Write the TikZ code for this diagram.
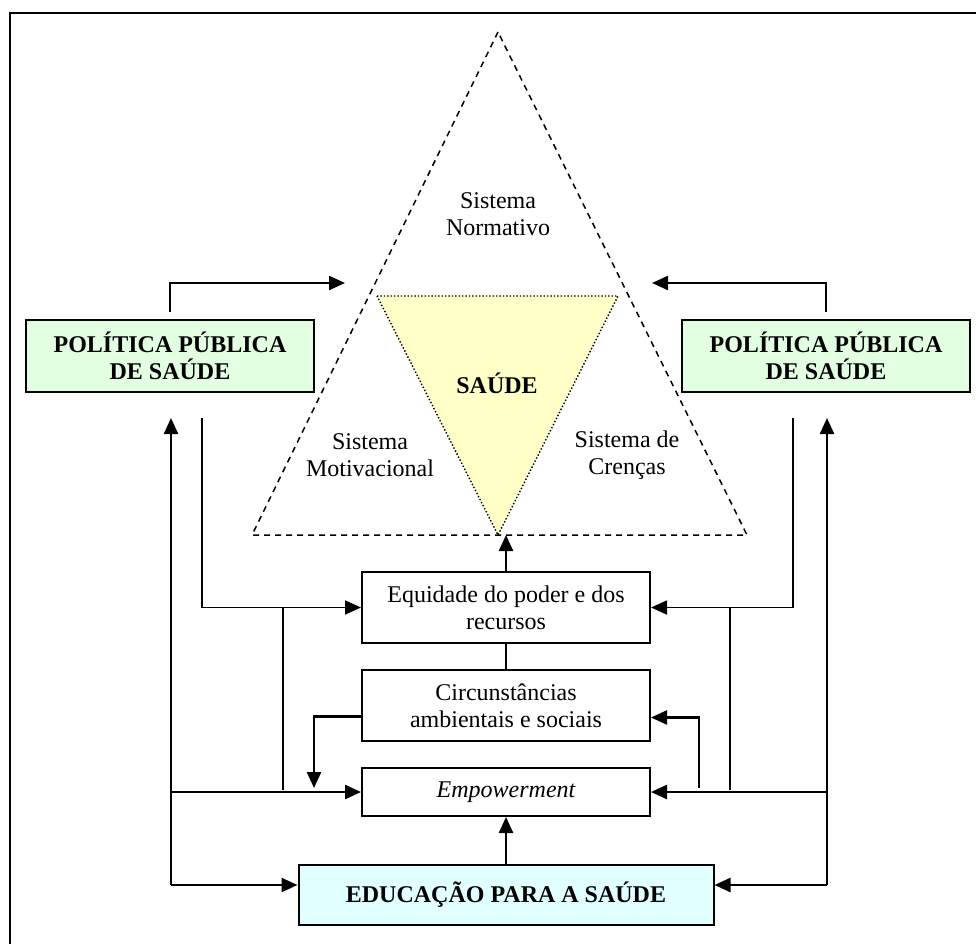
\documentclass[tikz,border=0pt]{standalone}
\usepackage{fontspec}
\setmainfont{Liberation Serif}
\usetikzlibrary{arrows.meta,positioning}

\definecolor{policygreen}{RGB}{226,255,226}
\definecolor{healthyellow}{RGB}{255,255,200}
\definecolor{educyan}{RGB}{226,255,255}

\tikzset{
  label text/.style={align=center, inner sep=0pt, font=\fontsize{24}{27}\selectfont},
  every box/.style={draw, line width=2pt, align=center, inner sep=0pt,
    minimum width=288pt, font=\fontsize{24}{27}\selectfont},
  policy/.style={fill=policygreen, minimum height=72pt,
    font=\fontsize{24}{26.5}\selectfont\bfseries},
  education/.style={fill=educyan, minimum width=415pt, minimum height=60pt,
    font=\fontsize{24}{27}\selectfont\bfseries},
  flow/.style={line width=2.4pt},
  thin flow/.style={line width=1.7pt},
  thin line/.style={line width=1.2pt}
}

\begin{document}
\begin{tikzpicture}[x=1pt, y=-1pt, >={Triangle[length=16pt,width=14pt]}, node distance=25pt]

\useasboundingbox (0,0) rectangle (976,944);
\draw [line width=2.2pt] (976,13) -- (10,13) -- (10,944);

% triangles
\coordinate (top) at (498,32);
\coordinate (base-L) at (252,535);
\coordinate (base-R) at (747,535);
\coordinate (inner-L) at (377,296);
\coordinate (inner-R) at (618,296);
\coordinate (inner-B) at (498,535);

\fill [healthyellow] (inner-L) -- (inner-R) -- (inner-B) -- cycle;
\draw [dotted, line width=1.4pt] (inner-L) -- (inner-R) -- (inner-B) -- cycle;
\draw [line width=1.5pt, dash pattern=on 6pt off 5pt] (top) -- (base-L) -- (base-R) -- cycle;

\node [label text] (normativo) at (498,214) {Sistema\\Normativo};
\node [label text] (motivacional) at (370,455) {Sistema\\Motivacional};
\node [label text] (crencas) at (627,455) {Sistema de\\Crenças};
\node [label text, font=\fontsize{24}{27}\selectfont\bfseries] (saude) at (497,383) {SAÚDE};

% boxes
\foreach \s/\x in {L/170, R/826}
  \node [every box, policy] (policy-\s) at (\x,356) {POLÍTICA PÚBLICA\\DE SAÚDE};

\node [every box, minimum height=71pt] (equidade) at (506,607.5) {Equidade do poder e dos\\recursos};
\node [every box, minimum height=71pt, below=of equidade] (circunstancias) {Circunstâncias\\ambientais e sociais};
\node [every box, minimum height=48pt, below=of circunstancias] (empowerment) {\itshape Empowerment};
\node [every box, education, below=47pt of empowerment] (educacao) {EDUCAÇÃO PARA A SAÚDE};

% policy -> triangle
\coordinate (in-L) at (345,283);
\coordinate (in-R) at (652,283);
\foreach \s in {L,R}
  \draw [flow, ->] ([yshift=7pt]policy-\s.north) |- (in-\s);

% policy -> equidade
\coordinate (out-L) at (202,418);
\coordinate (out-R) at (793,418);
\draw [thin flow, ->] (out-L) |- (equidade.west);
\draw [thin flow, ->] (out-R) |- (equidade.east);

\coordinate (tap-L) at (283,790);
\coordinate (tap-R) at (730,790);
\draw [thin line] (tap-L) -- (tap-L |- equidade.west);
\draw [thin line] (tap-R) -- (tap-R |- equidade.east);

% education buses
\coordinate (bus-L) at (171,885);
\coordinate (bus-R) at (827,885);
\coordinate (up-L) at (171,418);
\coordinate (up-R) at (827,418);
\draw [flow, ->] (bus-L) -- (up-L);
\draw [flow, ->] (bus-R) -- (up-R);
\draw [flow, ->] (bus-L) -- (bus-L -| educacao.west);
\draw [flow, ->] (bus-R) -- (bus-R -| educacao.east);
\draw [flow, ->] (bus-L |- empowerment.west) -- (empowerment.west);
\draw [flow, ->] (bus-R |- empowerment.east) -- (empowerment.east);

% circunstancias <-> empowerment
\coordinate (drop-L) at (314,788);
\coordinate (rise-R) at (699,788);
\draw [flow, ->] ([yshift=-11pt]circunstancias.west) -| (drop-L);
\draw [flow, ->] (rise-R) |- ([yshift=-12pt]circunstancias.east);

% column
\draw [thin line] (equidade.south) -- (circunstancias.north);
\draw [flow, ->] (empowerment.south |- educacao.north) -- (empowerment.south);
\draw [flow, ->] (equidade.north) -- (equidade.north |- base-L);

\end{tikzpicture}
\end{document}
